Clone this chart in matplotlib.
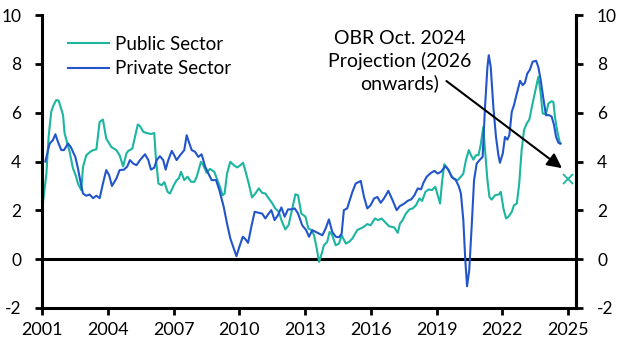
import numpy as np
import matplotlib
matplotlib.use('Agg')
import matplotlib.pyplot as plt

plt.rcParams['font.family'] = ['Lato', 'DejaVu Sans']
plt.rcParams['axes.unicode_minus'] = False

#values (decimal year, % y/y)
pub_dates = [2001.0, 2001.2, 2001.3, 2001.42, 2001.52, 2001.65, 2001.76, 2001.96, 2002.03, 2002.26,
             2002.41, 2002.55, 2002.64, 2002.79, 2002.87, 2003.02, 2003.2, 2003.33, 2003.48, 2003.63,
             2003.78, 2003.93, 2004.16, 2004.39, 2004.54, 2004.7, 2004.85, 2004.94, 2005.12, 2005.37,
             2005.47, 2005.62, 2005.77, 2005.97, 2006.12, 2006.19, 2006.31, 2006.46, 2006.58, 2006.73,
             2006.84, 2006.99, 2007.14, 2007.24, 2007.34, 2007.49, 2007.64, 2007.8, 2007.95, 2008.06,
             2008.25, 2008.36, 2008.51, 2008.66, 2008.86, 2009.09, 2009.24, 2009.33, 2009.44, 2009.59,
             2009.75, 2009.9, 2010.05, 2010.17, 2010.27, 2010.43, 2010.58, 2010.73, 2010.89, 2011.04,
             2011.19, 2011.34, 2011.49, 2011.64, 2011.8, 2011.95, 2012.1, 2012.25, 2012.4, 2012.56,
             2012.68, 2012.83, 2013.02, 2013.15, 2013.3, 2013.41, 2013.52, 2013.64, 2013.76, 2013.86,
             2014.01, 2014.12, 2014.24, 2014.4, 2014.55, 2014.67, 2014.86, 2015.01, 2015.16, 2015.38,
             2015.54, 2015.69, 2015.84, 2015.99, 2016.19, 2016.34, 2016.49, 2016.64, 2016.83, 2017.07,
             2017.23, 2017.33, 2017.45, 2017.6, 2017.76, 2017.91, 2018.06, 2018.22, 2018.34, 2018.49,
             2018.64, 2018.79, 2018.94, 2019.05, 2019.16, 2019.25, 2019.35, 2019.5, 2019.66, 2019.81,
             2019.96, 2020.11, 2020.22, 2020.34, 2020.47, 2020.57, 2020.68, 2020.8, 2020.91, 2021.01,
             2021.13, 2021.21, 2021.32, 2021.41, 2021.51, 2021.67, 2021.86, 2021.93, 2022.05, 2022.17,
             2022.28, 2022.43, 2022.53, 2022.66, 2022.77, 2022.88, 2022.99, 2023.11, 2023.23, 2023.38,
             2023.54, 2023.64, 2023.75, 2023.84, 2023.99, 2024.1, 2024.25, 2024.33, 2024.4, 2024.51,
             2024.63]
pub_vals = [2.0, 3.5, 5.0, 6.04, 6.3, 6.52, 6.5, 5.9, 5.16, 4.4,
            3.73, 3.4, 3.1, 2.83, 3.78, 4.26, 4.4, 4.47, 4.5, 5.63,
            5.72, 4.94, 4.6, 4.47, 4.26, 3.8, 4.33, 4.44, 4.53, 5.52,
            5.45, 5.22, 5.17, 5.13, 5.17, 4.19, 3.1, 3.03, 3.16, 2.76,
            2.69, 2.99, 3.24, 3.31, 3.58, 3.24, 3.38, 3.17, 3.17, 3.38,
            3.99, 3.85, 3.54, 3.7, 3.58, 3.03, 2.62, 2.69, 3.51, 3.99,
            3.85, 3.76, 3.85, 3.95, 3.65, 3.1, 2.53, 2.69, 2.9, 2.72,
            2.69, 2.49, 2.31, 2.08, 1.94, 1.53, 1.22, 1.4, 2.01, 2.66,
            2.62, 1.87, 1.74, 1.26, 1.19, 0.98, 0.5, -0.11, 0.23, 0.57,
            0.71, 1.12, 0.98, 0.57, 0.64, 0.98, 0.64, 0.71, 0.85, 1.19,
            1.26, 1.33, 1.44, 1.39, 1.67, 1.6, 1.67, 1.53, 1.35, 1.3,
            1.08, 1.46, 1.6, 1.87, 2.04, 2.08, 2.21, 2.49, 2.39, 2.76,
            2.86, 2.83, 2.97, 2.62, 2.28, 3.17, 3.89, 3.72, 3.44, 3.27,
            3.24, 3.38, 3.51, 4.06, 4.47, 4.26, 4.08, 4.26, 4.26, 4.67,
            5.42, 4.47, 3.24, 2.55, 2.44, 2.62, 2.66, 2.76, 2.08, 1.67,
            1.74, 1.94, 2.21, 2.28, 3.1, 4.47, 5.29, 5.56, 5.72, 6.38,
            7.06, 7.47, 6.79, 5.97, 5.94, 6.38, 6.47, 6.44, 5.83, 5.22,
            4.74]

priv_dates = [2001.15, 2001.35, 2001.5, 2001.61, 2001.73, 2001.88, 2002.0, 2002.19, 2002.31, 2002.41,
              2002.52, 2002.64, 2002.77, 2002.87, 2003.02, 2003.17, 2003.33, 2003.48, 2003.63, 2003.78,
              2003.93, 2004.06, 2004.19, 2004.39, 2004.54, 2004.74, 2004.89, 2005.01, 2005.16, 2005.31,
              2005.47, 2005.7, 2005.85, 2005.97, 2006.12, 2006.23, 2006.38, 2006.53, 2006.64, 2006.76,
              2006.92, 2007.03, 2007.14, 2007.3, 2007.49, 2007.6, 2007.7, 2007.83, 2007.98, 2008.13,
              2008.28, 2008.44, 2008.59, 2008.74, 2008.94, 2009.09, 2009.29, 2009.44, 2009.59, 2009.75,
              2009.87, 2010.0, 2010.16, 2010.27, 2010.4, 2010.55, 2010.7, 2010.89, 2011.04, 2011.19,
              2011.34, 2011.46, 2011.61, 2011.76, 2011.92, 2012.07, 2012.22, 2012.37, 2012.53, 2012.68,
              2012.87, 2013.05, 2013.18, 2013.33, 2013.48, 2013.64, 2013.79, 2013.94, 2014.09, 2014.24,
              2014.4, 2014.55, 2014.67, 2014.77, 2014.92, 2015.04, 2015.16, 2015.31, 2015.47, 2015.54,
              2015.69, 2015.84, 2015.99, 2016.15, 2016.3, 2016.45, 2016.6, 2016.8, 2016.99, 2017.18,
              2017.33, 2017.53, 2017.68, 2017.84, 2017.99, 2018.14, 2018.29, 2018.4, 2018.55, 2018.75,
              2018.9, 2019.05, 2019.2, 2019.4, 2019.55, 2019.7, 2019.86, 2020.01, 2020.11, 2020.22,
              2020.31, 2020.39, 2020.49, 2020.6, 2020.71, 2020.83, 2020.98, 2021.1, 2021.21, 2021.32,
              2021.38, 2021.47, 2021.59, 2021.71, 2021.82, 2021.89, 2022.02, 2022.12, 2022.23, 2022.32,
              2022.43, 2022.53, 2022.66, 2022.81, 2022.93, 2023.03, 2023.14, 2023.26, 2023.38, 2023.54,
              2023.64, 2023.75, 2023.87, 2023.99, 2024.14, 2024.25, 2024.36, 2024.45, 2024.56, 2024.66]
priv_vals = [4.0, 4.74, 4.88, 5.12, 4.8, 4.47, 4.47, 4.74, 4.6, 4.4,
             4.19, 3.72, 3.1, 2.69, 2.6, 2.65, 2.5, 2.6, 2.5, 3.1,
             3.65, 3.45, 3.0, 3.3, 3.65, 3.67, 3.8, 4.06, 3.92, 3.85,
             4.06, 4.3, 4.06, 3.67, 3.75, 4.06, 4.22, 4.06, 3.67, 4.06,
             4.44, 4.26, 4.06, 4.26, 4.47, 5.08, 4.8, 4.47, 4.4, 4.19,
             4.3, 3.8, 3.51, 3.24, 3.24, 2.83, 2.14, 1.46, 0.85, 0.44,
             0.12, 0.5, 0.92, 0.83, 0.67, 1.33, 1.94, 1.9, 1.87, 1.67,
             1.87, 2.01, 1.6, 1.8, 2.12, 1.74, 2.04, 2.04, 2.08, 1.87,
             1.39, 1.19, 0.92, 1.19, 1.12, 1.05, 0.98, 1.26, 1.63, 1.12,
             0.92, 0.9, 1.05, 2.01, 2.08, 2.42, 2.76, 3.1, 3.17, 3.21,
             2.55, 2.08, 2.21, 2.49, 2.55, 2.31, 2.49, 2.8, 2.42, 2.01,
             2.18, 2.28, 2.39, 2.45, 2.62, 2.9, 2.86, 3.13, 3.38, 3.54,
             3.62, 3.51, 3.58, 3.81, 3.65, 3.35, 3.27, 2.99, 2.69, 1.6,
             -0.04, -1.11, -0.45, 1.33, 3.24, 3.92, 4.08, 4.19, 6.24, 7.88,
             8.36, 7.88, 6.24, 5.01, 4.26, 3.95, 4.33, 5.01, 4.9, 5.08,
             6.04, 6.31, 6.79, 7.31, 7.13, 7.23, 7.61, 7.77, 8.09, 8.13,
             7.88, 7.34, 6.59, 5.9, 5.9, 5.84, 5.49, 5.01, 4.77, 4.74]

#OBR projection point
proj_date = [2025.0]
proj_val = [3.3]

xticks = [2001, 2004, 2007, 2010, 2013, 2016, 2019, 2022, 2025]
yticks = [-2, 0, 2, 4, 6, 8, 10]

teal = '#1BB5A0'
blue = '#2255CC'

fig = plt.figure(figsize=(6.27, 3.52), dpi=100)
ax = fig.add_axes([0.067, 0.125, 0.852, 0.832])
ax.plot(pub_dates, pub_vals, color=teal, lw=1.5, label='Public Sector')
ax.plot(priv_dates, priv_vals, color=blue, lw=1.5, label='Private Sector')
ax.plot(proj_date, proj_val, ls='none', marker='x', ms=7, mew=1.3, color=teal)
ax.axhline(0, color='black', lw=2.2, zorder=1)

ax.set_xlim(2001, 2025.37)
ax.set_ylim(-2, 10)
ax.set_xticks(xticks)
ax.set_yticks(yticks)
ax.tick_params(axis='both', direction='out', length=5, width=2, labelsize=13)
ax.tick_params(axis='y', pad=10, labelsize=12.5)
ax.tick_params(axis='x', pad=5)
ax.spines['top'].set_visible(False)
for s in ['left', 'right', 'bottom']:
    ax.spines[s].set_linewidth(2.2)

ax2 = ax.twinx()
ax2.set_ylim(-2, 10)
ax2.set_yticks(yticks)
ax2.tick_params(axis='y', direction='out', length=5, width=2, labelsize=12.5, pad=10)
ax2.spines['top'].set_visible(False)
ax2.spines['left'].set_visible(False)
ax2.spines['bottom'].set_visible(False)
ax2.spines['right'].set_linewidth(2.2)

ax.legend(loc='upper left', bbox_to_anchor=(0.048, 0.93), frameon=False, fontsize=13.5,
          handlelength=2.2, handletextpad=0.3, labelspacing=0.4, borderpad=0, borderaxespad=0)

ax.text(2017.3, 8.12, 'OBR Oct. 2024\nProjection (2026\nonwards)', ha='center', va='center',
        fontsize=14, linespacing=1.32)
ax.annotate('', xy=(2024.72, 3.73), xytext=(2019.45, 7.3),
            arrowprops=dict(arrowstyle='-|>', color='black', lw=1.5, mutation_scale=22,
                            shrinkA=0, shrinkB=0))

fig.savefig('out.png', dpi=100)
